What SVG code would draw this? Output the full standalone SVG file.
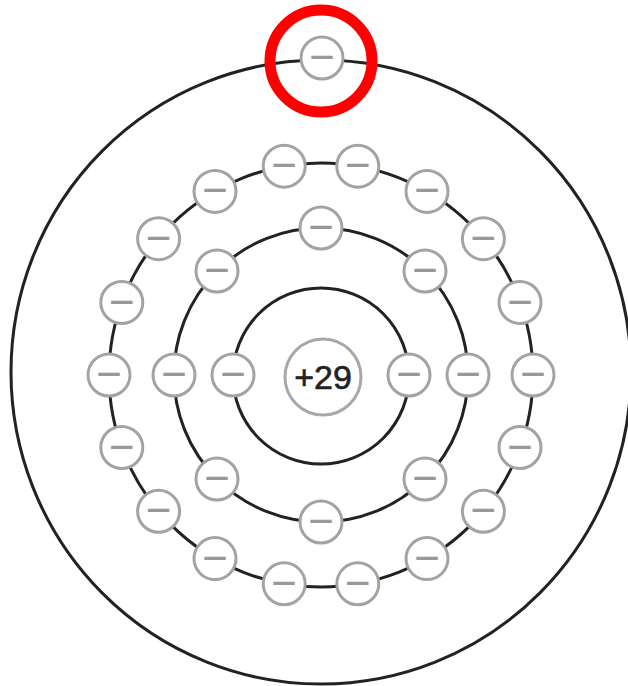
<svg xmlns="http://www.w3.org/2000/svg" width="628" height="686" viewBox="0 0 628 686">
<style>
.orbit{fill:none;stroke:#222;stroke-width:3}
.e{fill:#fff;stroke:#a3a3a3;stroke-width:3}
.m{font-family:"Liberation Sans",Arial,sans-serif;font-size:44px;fill:#999;text-anchor:middle}
.nuc{fill:#fff;stroke:#a8a8a8;stroke-width:3}
.nt{font-family:"Liberation Sans",Arial,sans-serif;font-size:34px;fill:#222;stroke:#222;stroke-width:0.6;text-anchor:middle}
</style>
<rect width="628" height="686" fill="#fff"/>
<g id="orbits">
<ellipse class="orbit" cx="321" cy="372" rx="310" ry="312"/>
<circle class="orbit" cx="321" cy="375" r="212"/>
<circle class="orbit" cx="321" cy="375" r="147"/>
<circle class="orbit" cx="321" cy="376" r="88"/>
</g>
<g id="nucleus"><circle class="nuc" cx="323" cy="377" r="38"/><text class="nt" x="323" y="389">+29</text></g>
<g id="shell1">
<g id="e1-1" transform="translate(233,375)"><circle class="e" r="21"/><text class="m" y="14">−</text></g>
<g id="e1-2" transform="translate(409,375)"><circle class="e" r="21"/><text class="m" y="14">−</text></g>
</g>
<g id="shell2">
<g id="e2-1" transform="translate(468,375)"><circle class="e" r="21"/><text class="m" y="14">−</text></g>
<g id="e2-2" transform="translate(425,271)"><circle class="e" r="21"/><text class="m" y="14">−</text></g>
<g id="e2-3" transform="translate(321,228)"><circle class="e" r="21"/><text class="m" y="14">−</text></g>
<g id="e2-4" transform="translate(217,271)"><circle class="e" r="21"/><text class="m" y="14">−</text></g>
<g id="e2-5" transform="translate(174,375)"><circle class="e" r="21"/><text class="m" y="14">−</text></g>
<g id="e2-6" transform="translate(217,479)"><circle class="e" r="21"/><text class="m" y="14">−</text></g>
<g id="e2-7" transform="translate(321,522)"><circle class="e" r="21"/><text class="m" y="14">−</text></g>
<g id="e2-8" transform="translate(425,479)"><circle class="e" r="21"/><text class="m" y="14">−</text></g>
</g>
<g id="shell3">
<g id="e3-01" transform="translate(533,375)"><circle class="e" r="21"/><text class="m" y="14">−</text></g>
<g id="e3-02" transform="translate(520,302.5)"><circle class="e" r="21"/><text class="m" y="14">−</text></g>
<g id="e3-03" transform="translate(483.4,238.7)"><circle class="e" r="21"/><text class="m" y="14">−</text></g>
<g id="e3-04" transform="translate(427,191.4)"><circle class="e" r="21"/><text class="m" y="14">−</text></g>
<g id="e3-05" transform="translate(357.8,166.2)"><circle class="e" r="21"/><text class="m" y="14">−</text></g>
<g id="e3-06" transform="translate(284.2,166.2)"><circle class="e" r="21"/><text class="m" y="14">−</text></g>
<g id="e3-07" transform="translate(215,191.4)"><circle class="e" r="21"/><text class="m" y="14">−</text></g>
<g id="e3-08" transform="translate(158.6,238.7)"><circle class="e" r="21"/><text class="m" y="14">−</text></g>
<g id="e3-09" transform="translate(121.8,302.5)"><circle class="e" r="21"/><text class="m" y="14">−</text></g>
<g id="e3-10" transform="translate(109,375)"><circle class="e" r="21"/><text class="m" y="14">−</text></g>
<g id="e3-11" transform="translate(121.8,447.5)"><circle class="e" r="21"/><text class="m" y="14">−</text></g>
<g id="e3-12" transform="translate(158.6,511.3)"><circle class="e" r="21"/><text class="m" y="14">−</text></g>
<g id="e3-13" transform="translate(215,558.6)"><circle class="e" r="21"/><text class="m" y="14">−</text></g>
<g id="e3-14" transform="translate(284.2,583.8)"><circle class="e" r="21"/><text class="m" y="14">−</text></g>
<g id="e3-15" transform="translate(357.8,583.8)"><circle class="e" r="21"/><text class="m" y="14">−</text></g>
<g id="e3-16" transform="translate(427,558.6)"><circle class="e" r="21"/><text class="m" y="14">−</text></g>
<g id="e3-17" transform="translate(483.4,511.3)"><circle class="e" r="21"/><text class="m" y="14">−</text></g>
<g id="e3-18" transform="translate(520,447.5)"><circle class="e" r="21"/><text class="m" y="14">−</text></g>
</g>
<g id="shell4">
<g id="e4-1" transform="translate(322,58)"><circle class="e" r="21"/><text class="m" y="14">−</text></g>
</g>
<g id="highlight"><circle cx="321" cy="61" r="51" fill="none" stroke="#ff0000" stroke-width="11"/></g>
</svg>
